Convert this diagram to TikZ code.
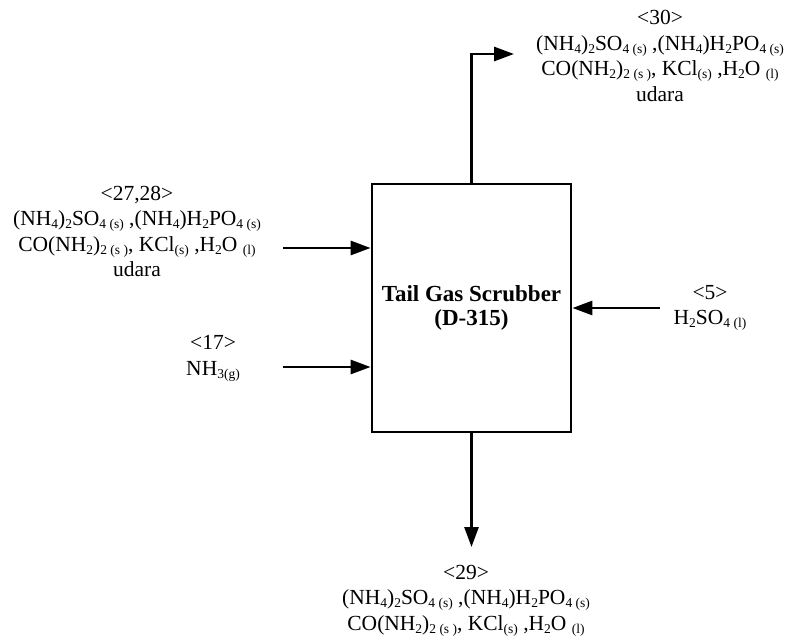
\documentclass[tikz,border=0pt]{standalone}
\usepackage{fontspec}
\setmainfont{Liberation Serif}
\usepackage{tikz}
\usetikzlibrary{arrows.meta,positioning}
\newcommand{\chsub}[1]{\raisebox{-0.3ex}{\fontsize{13.5}{13.5}\selectfont #1}}
\newcommand{\saltline}{(NH\chsub{4})\chsub{2}SO\chsub{4 (s)} ,(NH\chsub{4})H\chsub{2}PO\chsub{4 (s)}}
\newcommand{\urealine}{CO(NH\chsub{2})\chsub{2 (s )}, KCl\chsub{(s)} ,H\chsub{2}O \chsub{(l)}}

\begin{document}
\begin{tikzpicture}[
    x=1pt, y=-1pt,
    unit/.style={draw, line width=2.8pt, align=center, minimum width=199pt, minimum height=248pt, font=\bfseries\fontsize{23}{24.5}\selectfont},
    lbl/.style={align=center, inner sep=0pt, font=\fontsize{21.5}{25.5}\selectfont},
    arrow/.style={-{Triangle[length=20pt,width=14pt]}, line width=2.8pt}
]
\useasboundingbox (0,0) rectangle (791,639);
\node[unit] (scrubber) at (471.5,308) {Tail Gas Scrubber\\(D-315)};
\node[lbl] (s30) at (660,56) {<30>\\\saltline\\\urealine\\udara};
\node[lbl] (s2728) at (137,231.5) {<27,28>\\\saltline\\\urealine\\udara};
\node[lbl] (s17) at (213,358.5) {<17>\\NH\chsub{3(g)}};
\node[lbl] (s5) at (710,308) {<5>\\H\chsub{2}SO\chsub{4 (l)}};
\node[lbl] (s29) at (466,600.5) {<29>\\\saltline\\\urealine};
\coordinate (in2728) at (283,248);
\coordinate (in17) at (283,367);
\coordinate (in5) at (660,308);
\coordinate (out30) at (514,54);
\coordinate (out29) at (471.5,547);
\draw[arrow] (in2728) -- (in2728 -| scrubber.west);
\draw[arrow] (in17) -- (in17 -| scrubber.west);
\draw[arrow] (in5) -- (scrubber.east);
\draw[arrow] (scrubber.north) |- (out30);
\draw[arrow] (scrubber.south) -- (out29);
\end{tikzpicture}
\end{document}
